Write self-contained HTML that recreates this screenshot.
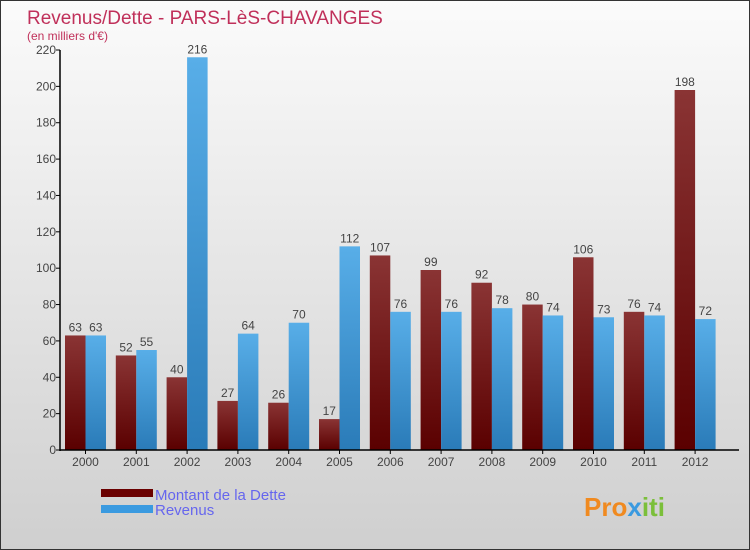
<!DOCTYPE html>
<html><head><meta charset="utf-8"><style>
body{margin:0;}
#wrap{position:relative;width:748px;height:548px;border:1px solid #333;background:linear-gradient(#fbfbfb,#cfcfcf);font-family:"Liberation Sans",sans-serif;overflow:hidden}
</style></head><body>
<div id="wrap">
<svg id="chart" width="748" height="548" xmlns="http://www.w3.org/2000/svg">
<defs>
<linearGradient id="gd" x1="0" y1="0" x2="0" y2="1"><stop offset="0" stop-color="#8a3434"/><stop offset="1" stop-color="#5a0000"/></linearGradient>
<linearGradient id="gr" x1="0" y1="0" x2="0" y2="1"><stop offset="0" stop-color="#58aee8"/><stop offset="1" stop-color="#2a7bb8"/></linearGradient>
</defs>
<text x="26" y="23" font-size="19" fill="#c0305a">Revenus/Dette - PARS-LèS-CHAVANGES</text>
<text x="26" y="39" font-size="12" fill="#c0305a">(en milliers d'€)</text>
<g id="plot"></g>
<rect x="100" y="488" width="52" height="8" fill="#6a0000"/>
<rect x="100" y="504" width="52" height="8" fill="#3a9ae0"/>
<text x="154" y="499" font-size="15" fill="#6666ee">Montant de la Dette</text>
<text x="154" y="514" font-size="15" fill="#6666ee">Revenus</text>
<text x="583" y="515" font-size="26" font-weight="bold" fill="#f08a20">Pro<tspan fill="#3a9ae0">x</tspan><tspan fill="#7bbf3a">iti</tspan></text>
</svg>
</div>
<script>
const years=["2000","2001","2002","2003","2004","2005","2006","2007","2008","2009","2010","2011","2012"];
const dette=[63,52,40,27,26,17,107,99,92,80,106,76,198];
const revenus=[63,55,216,64,70,112,76,76,78,74,73,74,72];
const yTicks=[0,20,40,60,80,100,120,140,160,180,200,220];
const NS="http://www.w3.org/2000/svg";
const g=document.getElementById('plot');
const y0=449,yTop=49,maxV=220,x0=59,step=50.8,bw=20.5;
function yS(v){return y0-(v/maxV)*(y0-yTop);}
function xS(i){return 64+i*step;}
function mk(t,a){const e=document.createElementNS(NS,t);for(const k in a)e.setAttribute(k,a[k]);g.appendChild(e);return e;}
yTicks.forEach(v=>{
 const l=mk('line',{x1:x0-4,x2:x0,y1:yS(v),y2:yS(v),stroke:'#000'});
 
 
 const t=mk('text',{x:x0-4,y:yS(v)+4,'text-anchor':'end','font-size':12,fill:'#444'});
 t.textContent=v;
 
 
});
years.forEach((yr,i)=>{
 const x=xS(i);
 const b1=mk('rect',{x:x,y:yS(dette[i]),width:bw,height:y0-yS(dette[i]),fill:'url(#gd)'});
 
 
 const b2=mk('rect',{x:x+bw,y:yS(revenus[i]),width:bw,height:y0-yS(revenus[i]),fill:'url(#gr)'});
 
 
 const t1=mk('text',{x:x+bw/2,y:yS(dette[i])-4,'text-anchor':'middle','font-size':12,fill:'#444'});
 t1.textContent=dette[i];
 
 
 const t2=mk('text',{x:x+bw*1.5,y:yS(revenus[i])-4,'text-anchor':'middle','font-size':12,fill:'#444'});
 t2.textContent=revenus[i];
 
 
 const tk=mk('line',{x1:x+bw,x2:x+bw,y1:y0,y2:y0+4,stroke:'#000'});
 
 
 const xl=mk('text',{x:x+bw,y:y0+16,'text-anchor':'middle','font-size':12,fill:'#444'});
 xl.textContent=yr;
 
 
});
const ax=mk('line',{x1:x0,x2:x0,y1:yTop,y2:y0+1,stroke:'#000','stroke-width':1.5});


const bx=mk('line',{x1:x0,x2:738,y1:y0,y2:y0,stroke:'#000','stroke-width':1.5});


</script>
</body></html>
